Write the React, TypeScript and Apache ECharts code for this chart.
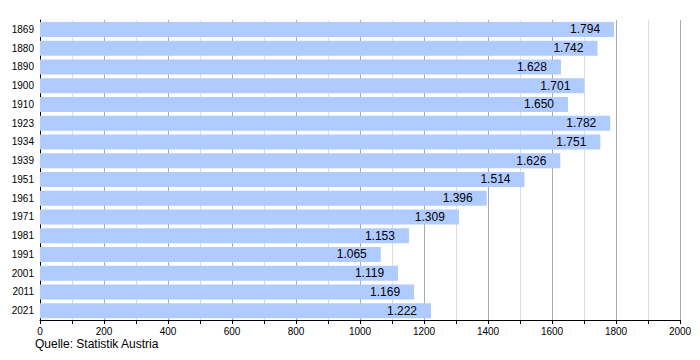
import React, { useEffect, useRef } from "react";
import * as echarts from "echarts";

const years = ["1869", "1880", "1890", "1900", "1910", "1923", "1934", "1939", "1951", "1961", "1971", "1981", "1991", "2001", "2011", "2021"];
const population = [1794, 1742, 1628, 1701, 1650, 1782, 1751, 1626, 1514, 1396, 1309, 1153, 1065, 1119, 1169, 1222];
const sourceText = "Quelle: Statistik Austria";

const FONT = "'Liberation Sans', Arial, sans-serif";

export default function App() {
  const ref = useRef<HTMLDivElement>(null);
  useEffect(() => {
    if (!ref.current) return;
    const chart = echarts.init(ref.current, undefined, { renderer: "svg" });
    chart.setOption({
      animation: false,
      backgroundColor: "#ffffff",
      textStyle: { fontFamily: FONT },
      grid: { left: 40, right: 20, top: 20, bottom: 40, containLabel: false },
      xAxis: {
        type: "value",
        min: 0,
        max: 2000,
        interval: 200,
        axisLine: { show: true, lineStyle: { color: "#000", width: 1 } },
        axisTick: { show: true, length: 4, lineStyle: { color: "#000" } },
        minorTick: { show: true, splitNumber: 2, length: 4, lineStyle: { color: "#000" } },
        splitLine: { show: true, lineStyle: { color: "#aaaaaa", width: 1 } },
        minorSplitLine: { show: true, lineStyle: { color: "#dddddd", width: 1 } },
        axisLabel: {
          color: "#000",
          fontSize: 10,
          margin: 6,
          fontFamily: FONT,
          formatter: (v: number) => String(v),
        },
      },
      yAxis: {
        type: "category",
        data: years,
        inverse: true,
        axisLine: { show: true, lineStyle: { color: "#000", width: 1 } },
        axisTick: { show: false },
        axisLabel: { color: "#000", fontSize: 10, margin: 6, fontFamily: FONT },
      },
      series: [
        {
          type: "bar",
          data: population,
          barCategoryGap: "20%",
          itemStyle: { color: "#b0cbff" },
          label: {
            show: true,
            position: "insideRight",
            distance: 14,
            color: "#000",
            fontSize: 12,
            fontFamily: FONT,
            formatter: (p: any) => (p.value / 1000).toFixed(3),
          },
        },
      ],
      graphic: [
        {
          type: "text",
          left: 35,
          top: 338,
          style: { text: sourceText, fontSize: 12, fill: "#000", fontFamily: FONT },
        },
      ],
    });
    return () => chart.dispose();
  }, []);
  return <div ref={ref} style={{ position: "fixed", left: 0, top: 0, width: 700, height: 360 }} />;
}
